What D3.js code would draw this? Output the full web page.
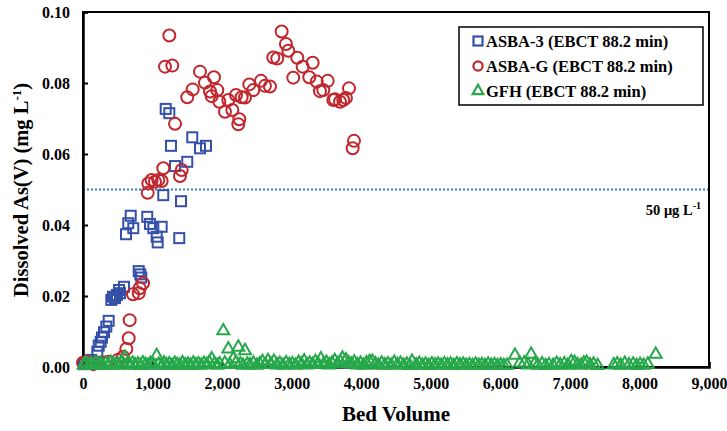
<!DOCTYPE html>
<html><head><meta charset="utf-8">
<script src="https://cdn.jsdelivr.net/npm/d3@7/dist/d3.min.js"></script>
<style>
body{margin:0;background:#fff;}
svg text{font-family:"Liberation Serif","Times New Roman",Times,serif !important;font-weight:bold;fill:#000;}
</style></head>
<body><svg id="c" width="727" height="431"></svg>
<script>
const xTicks=[0,1000,2000,3000,4000,5000,6000,7000,8000,9000];
const yTicks=[0,0.02,0.04,0.06,0.08,0.10];
const seriesNames=["ASBA-3 (EBCT 88.2 min)","ASBA-G (EBCT 88.2 min)","GFH (EBCT 88.2 min)"];
const limitValue=0.05;
const asba3=[[14,0.0008],[72,0.0011],[119,0.002],[206,0.0043],[226,0.006],[254,0.0071],[273,0.0083],[302,0.0098],[335,0.0114],[369,0.013],
[407,0.0189],[431,0.0198],[460,0.0194],[489,0.0203],[518,0.0217],[532,0.0208],[589,0.0226],[801,0.027],[824,0.0261],[838,0.0252],
[618,0.0374],[651,0.0405],[686,0.0426],[723,0.0391],[924,0.0423],[963,0.0403],[1011,0.0391],[1059,0.0367],[1074,0.0351],[1131,0.0395],
[1154,0.0484],[1384,0.0363],[1409,0.0467],[1189,0.0727],[1241,0.0715],[1265,0.0623],[1323,0.0566],[1499,0.0578],[1571,0.0647],[1682,0.0616],[1768,0.0623]];
const asbaG=[[0,0.0012],[60,0.0015],[150,0.0008],[300,0.0012],[360,0.0015],[500,0.002],[575,0.0029],[623,0.0051],[657,0.0081],[671,0.0132],
[719,0.0205],[801,0.0208],[815,0.0222],[863,0.0236],[930,0.0491],[939,0.0517],[987,0.0527],[1035,0.0522],[1083,0.0527],[1131,0.0524],
[1154,0.056],[1179,0.0846],[1241,0.0934],[1284,0.0849],[1323,0.0685],[1394,0.0538],[1419,0.0555],[1499,0.076],[1577,0.0782],[1682,0.0832],
[1754,0.0801],[1826,0.0776],[1850,0.0763],[1883,0.0816],[1931,0.078],[1960,0.0747],[2041,0.0719],[2089,0.0752],[2147,0.0724],[2200,0.0766],
[2233,0.0684],[2247,0.0698],[2281,0.076],[2329,0.0759],[2391,0.0796],[2448,0.078],[2559,0.0806],[2616,0.0792],[2688,0.079],[2736,0.0872],
[2793,0.0869],[2856,0.0945],[2918,0.091],[2952,0.0891],[3023,0.0815],[3081,0.0871],[3158,0.0846],[3253,0.0816],[3302,0.0857],[3360,0.0804],
[3407,0.0777],[3455,0.078],[3518,0.0806],[3599,0.0752],[3623,0.0754],[3695,0.0747],[3742,0.0752],[3780,0.0758],[3824,0.0785],[3877,0.0616],[3896,0.0637]];
const gfh=[[10,0.0003],[45,0.0008],[80,0.0002],[115,0.0006],[150,0.0001],[185,0.0009],[220,0.0003],[255,0.0005],[290,0.0001],[330,0.0007],
[365,0.0002],[400,0.0010],[440,0.0003],[475,0.0006],[510,0.0002],[550,0.0011],[585,0.0004],[604,0.0024],[640,0.0007],[680,0.0002],
[715,0.0008],[750,0.0003],[790,0.0006],[825,0.0001],[860,0.0009],[900,0.0004],[935,0.0002],[970,0.0007],[1010,0.0003],[1059,0.0029],
[1090,0.0005],[1130,0.0002],[1165,0.0008],[1200,0.0003],[1240,0.0006],[1280,0.0001],[1320,0.0007],[1355,0.0004],[1395,0.0002],[1430,0.0009],
[1470,0.0003],[1510,0.0005],[1545,0.0001],[1585,0.0008],[1620,0.0003],[1660,0.0006],[1700,0.0002],[1740,0.0007],[1780,0.0004],[1815,0.0010],
[1850,0.0020],[1890,0.0005],[1930,0.0002],[1965,0.0006],[2017,0.0099],[2040,0.0008],[2089,0.0048],[2110,0.0004],[2161,0.0020],[2200,0.0010],
[2233,0.0053],[2260,0.0006],[2300,0.0002],[2329,0.0043],[2360,0.0005],[2400,0.0003],[2450,0.0008],[2500,0.0002],[2540,0.0006],[2580,0.0012],
[2620,0.0004],[2660,0.0015],[2700,0.0005],[2745,0.0013],[2790,0.0003],[2830,0.0007],[2875,0.0002],[2920,0.0009],[2965,0.0004],[3010,0.0006],
[3055,0.0002],[3100,0.0010],[3140,0.0005],[3180,0.0014],[3220,0.0003],[3260,0.0008],[3300,0.0004],[3340,0.0012],[3380,0.0006],[3420,0.0020],
[3460,0.0005],[3500,0.0010],[3540,0.0003],[3580,0.0008],[3620,0.0015],[3660,0.0006],[3700,0.0012],[3730,0.0022],[3780,0.0017],[3820,0.0009],
[3860,0.0005],[3900,0.0011],[3945,0.0003],[3990,0.0007],[4030,0.0002],[4075,0.0009],[4120,0.0012],[4160,0.0013],[4205,0.0006],[4250,0.0002],
[4295,0.0008],[4340,0.0003],[4385,0.0006],[4430,0.0002],[4475,0.0010],[4520,0.0004],[4565,0.0007],[4610,0.0002],[4655,0.0005],[4700,0.0001],
[4730,0.0013],[4790,0.0003],[4835,0.0007],[4880,0.0002],[4925,0.0005],[4970,0.0001],[5015,0.0006],[5060,0.0003],[5105,0.0005],[5150,0.0002],
[5195,0.0006],[5240,0.0003],[5285,0.0005],[5330,0.0001],[5375,0.0006],[5420,0.0003],[5465,0.0005],[5510,0.0002],[5555,0.0004],[5600,0.0001],
[5645,0.0005],[5690,0.0002],[5735,0.0004],[5780,0.0001],[5825,0.0005],[5870,0.0002],[5915,0.0004],[5960,0.0001],[6005,0.0003],[6050,0.0001],
[6095,0.0002],[6210,0.0030],[6280,0.0008],[6344,0.0008],[6400,0.0003],[6443,0.0033],[6490,0.0005],[6540,0.0002],[6600,0.0006],[6650,0.0001],
[6700,0.0004],[6760,0.0002],[6810,0.0007],[6860,0.0003],[6920,0.0006],[6970,0.0002],[7020,0.0012],[7066,0.0010],[7110,0.0004],[7160,0.0002],
[7200,0.0008],[7240,0.0010],[7290,0.0003],[7340,0.0005],[7400,0.0001],[7630,0.0003],[7680,0.0006],[7730,0.0002],[7790,0.0007],[7850,0.0003],
[7910,0.0005],[7960,0.0001],[8010,0.0004],[8060,0.0002],[8120,0.0005],[8234,0.0033]];

const colors={blue:"#3450a8",red:"#c1272d",green:"#26a84a",limit:"#2e7cc4"};
const svg=d3.select("#c");
const L=83,R=709,T=12,B=367;
const x=d3.scaleLinear().domain([0,9000]).range([L,R]);
const y=d3.scaleLinear().domain([0,0.1]).range([B,T]);

// limit line
svg.append("line").attr("x1",L).attr("x2",R).attr("y1",y(limitValue)).attr("y2",y(limitValue))
 .attr("stroke",colors.limit).attr("stroke-width",2).attr("stroke-dasharray","2,2");
svg.append("text").attr("x",701).attr("y",y(limitValue)+25).attr("text-anchor","end").style("font-size","14.5px")
 .text("50 μg L").append("tspan").attr("dy",-6).style("font-size","10px").text("-1");

// frame
svg.append("rect").attr("x",L).attr("y",T).attr("width",R-L).attr("height",B-T)
 .attr("fill","none").attr("stroke","#000").attr("stroke-width",2);

// axes
const ya=svg.append("g").attr("transform",`translate(${L},0)`)
 .call(d3.axisLeft(y).tickValues(yTicks).tickSize(-5).tickPadding(13).tickFormat(d3.format(".2f")));
const xa=svg.append("g").attr("transform",`translate(0,${B})`)
 .call(d3.axisBottom(x).tickValues(xTicks).tickSize(-5).tickPadding(11).tickFormat(d3.format(",")));
[ya,xa].forEach(g=>{g.attr("font-family",null).attr("font-size",null);
 g.select(".domain").attr("stroke","#000").attr("stroke-width",2.5);
 g.selectAll(".tick line").attr("stroke","#000").attr("stroke-width",2);
 g.selectAll("text").style("font-size","16px").attr("fill","#000");});

// markers
const sq=10, cr=6;
const tri=d3.symbol().type(d3.symbolTriangle).size(62);
svg.append("g").selectAll("rect").data(asba3).join("rect")
 .attr("x",d=>x(d[0])-sq/2).attr("y",d=>y(d[1])-sq/2).attr("width",sq).attr("height",sq)
 .attr("fill","none").attr("stroke",colors.blue).attr("stroke-width",2);
svg.append("g").selectAll("circle").data(asbaG).join("circle")
 .attr("cx",d=>x(d[0])).attr("cy",d=>y(d[1])).attr("r",cr)
 .attr("fill","none").attr("stroke",colors.red).attr("stroke-width",2);
svg.append("g").selectAll("path").data(gfh).join("path")
 .attr("transform",d=>`translate(${x(d[0])},${y(d[1])-1})`).attr("d",tri)
 .attr("fill","none").attr("stroke",colors.green).attr("stroke-width",2);

// legend
const lg=svg.append("g");
lg.append("rect").attr("x",459).attr("y",27).attr("width",244).attr("height",78)
 .attr("fill","#fff").attr("stroke","#000").attr("stroke-width",1.5);
const rows=[41,66,91];
lg.append("rect").attr("x",478-4.5).attr("y",rows[0]-4.5).attr("width",9).attr("height",9)
 .attr("fill","none").attr("stroke",colors.blue).attr("stroke-width",2.2);
lg.append("circle").attr("cx",478).attr("cy",rows[1]).attr("r",4.6)
 .attr("fill","none").attr("stroke",colors.red).attr("stroke-width",2.2);
lg.append("path").attr("transform",`translate(478,${rows[2]})`).attr("d",d3.symbol().type(d3.symbolTriangle).size(50))
 .attr("fill","none").attr("stroke",colors.green).attr("stroke-width",2.2);
seriesNames.forEach((s,i)=>lg.append("text").attr("x",486).attr("y",rows[i]+5.5).style("font-size","16.5px").text(s));

// axis titles
svg.append("text").attr("x",396).attr("y",421).attr("text-anchor","middle").style("font-size","21px").text("Bed Volume");
const yt=svg.append("text").attr("transform","translate(28,190) rotate(-90)").attr("text-anchor","middle").style("font-size","20.5px");
yt.append("tspan").text("Dissolved As(V) (mg L");
yt.append("tspan").attr("dy",-7).style("font-size","13px").text("-1");
yt.append("tspan").attr("dy",7).text(")");
</script></body></html>
